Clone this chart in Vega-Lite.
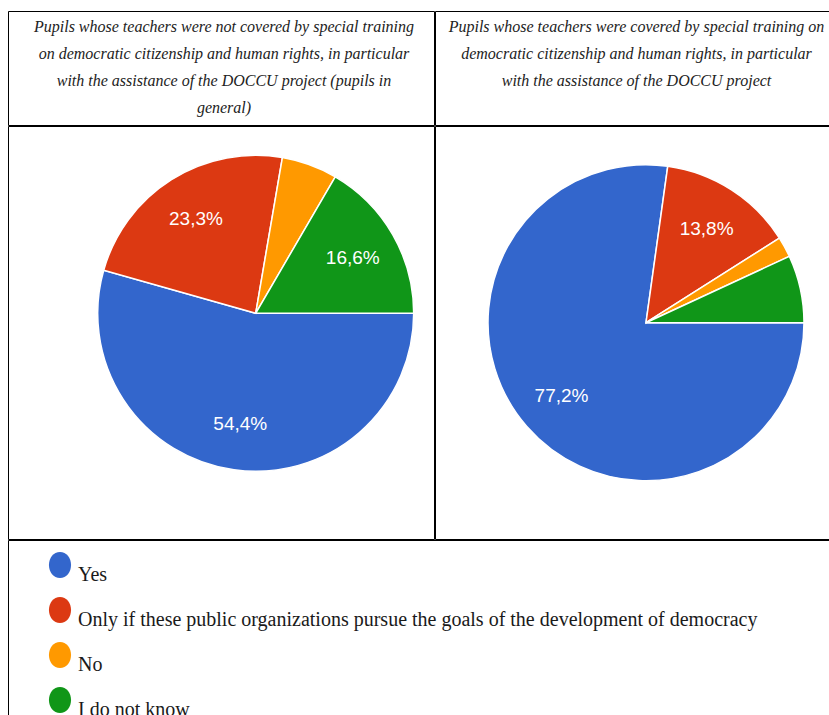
{
  "$schema": "https://vega.github.io/schema/vega-lite/v6.json",
  "padding": {"left": 7, "top": 10, "right": 0, "bottom": 0},
  "background": "white",
  "config": {
    "view": {"stroke": "#000", "strokeWidth": 1},
    "style": {"cell": {"stroke": "#000", "strokeWidth": 1}},
    "locale": {"number": {"decimal": ",", "thousands": ".", "grouping": [3], "currency": ["", " €"]}},
    "concat": {"spacing": -2}
  },
  "datasets": {
    "pies": [
      {"group": "not covered", "answer": "Yes", "rank": 1, "share": 0.544},
      {"group": "not covered", "answer": "Only if these public organizations pursue the goals of the development of democracy", "rank": 2, "share": 0.233},
      {"group": "not covered", "answer": "No", "rank": 3, "share": 0.057},
      {"group": "not covered", "answer": "I do not know", "rank": 4, "share": 0.166},
      {"group": "covered", "answer": "Yes", "rank": 1, "share": 0.772},
      {"group": "covered", "answer": "Only if these public organizations pursue the goals of the development of democracy", "rank": 2, "share": 0.138},
      {"group": "covered", "answer": "No", "rank": 3, "share": 0.021},
      {"group": "covered", "answer": "I do not know", "rank": 4, "share": 0.069}
    ]
  },
  "spacing": -2,
  "resolve": {"scale": {"color": "independent"}, "legend": {"color": "independent"}},
  "vconcat": [
    {
      "spacing": -2,
      "hconcat": [
        {
          "width": 426, "height": 114,
          "view": {"stroke": "#000", "strokeWidth": 1},
          "data": {"values": [{}]},
          "mark": {
            "type": "text",
            "text": ["Pupils whose teachers were not covered by special training", "on democratic citizenship and human rights, in particular", "with the assistance of the DOCCU project (pupils in", "general)"],
            "font": "Liberation Serif", "fontStyle": "italic", "fontSize": 16, "lineHeight": 27,
            "align": "center", "baseline": "middle", "color": "#222", "dx": 3, "dy": -41
          }
        },
        {
          "width": 395, "height": 114,
          "view": {"stroke": "#000", "strokeWidth": 1},
          "data": {"values": [{}]},
          "mark": {
            "type": "text",
            "text": ["Pupils whose teachers were covered by special training on", "democratic citizenship and human rights, in particular", "with the assistance of the DOCCU project"],
            "font": "Liberation Serif", "fontStyle": "italic", "fontSize": 16, "lineHeight": 27,
            "align": "center", "baseline": "middle", "color": "#222", "dx": 4, "dy": -41
          }
        }
      ]
    },
    {
      "spacing": -2,
      "hconcat": [
        {
          "width": 426, "height": 413,
          "view": {"stroke": "#000", "strokeWidth": 1},
          "data": {"name": "pies"},
          "transform": [{"filter": "datum.group === 'not covered'"}],
          "encoding": {
            "theta": {"field": "share", "type": "quantitative", "stack": true, "scale": {"range": [1.5707963, 7.8539816]}},
            "order": {"field": "rank", "type": "quantitative"}
          },
          "layer": [
            {
              "mark": {"type": "arc", "radius": 158, "stroke": "#fff", "strokeWidth": 1.5, "xOffset": 34.7, "yOffset": -19.2},
              "encoding": {
                "color": {"field": "answer", "type": "nominal", "legend": null,
                  "scale": {"domain": ["Yes", "Only if these public organizations pursue the goals of the development of democracy", "No", "I do not know"], "range": ["#3366CC", "#DC3912", "#FF9900", "#109618"]}}
              }
            },
            {
              "mark": {"type": "text", "radius": 112, "xOffset": 34.7, "yOffset": -19.2, "font": "Liberation Sans", "fontSize": 19, "fill": "#fff"},
              "encoding": {
                "detail": {"field": "answer", "type": "nominal"},
                "text": {"condition": {"test": "datum.share < 0.1", "value": ""}, "field": "share", "type": "quantitative", "format": ".1%"}
              }
            }
          ]
        },
        {
          "width": 395, "height": 413,
          "view": {"stroke": "#000", "strokeWidth": 1},
          "data": {"name": "pies"},
          "transform": [{"filter": "datum.group === 'covered'"}],
          "encoding": {
            "theta": {"field": "share", "type": "quantitative", "stack": true, "scale": {"range": [1.5707963, 7.8539816]}},
            "order": {"field": "rank", "type": "quantitative"}
          },
          "layer": [
            {
              "mark": {"type": "arc", "radius": 158, "stroke": "#fff", "strokeWidth": 1.5, "xOffset": 13.5, "yOffset": -9.8},
              "encoding": {
                "color": {"field": "answer", "type": "nominal", "legend": null,
                  "scale": {"domain": ["Yes", "Only if these public organizations pursue the goals of the development of democracy", "No", "I do not know"], "range": ["#3366CC", "#DC3912", "#FF9900", "#109618"]}}
              }
            },
            {
              "mark": {"type": "text", "radius": 112, "xOffset": 13.5, "yOffset": -9.8, "font": "Liberation Sans", "fontSize": 19, "fill": "#fff"},
              "encoding": {
                "detail": {"field": "answer", "type": "nominal"},
                "text": {"condition": {"test": "datum.share < 0.1", "value": ""}, "field": "share", "type": "quantitative", "format": ".1%"}
              }
            }
          ]
        }
      ]
    },
    {
      "width": 821, "height": 177,
      "view": {"stroke": "#000", "strokeWidth": 1},
      "data": {"name": "pies"},
      "transform": [{"filter": "datum.group === 'not covered'"}],
      "mark": {"type": "point", "opacity": 0, "filled": true},
      "encoding": {
        "color": {
          "field": "answer", "type": "nominal",
          "scale": {"domain": ["Yes", "Only if these public organizations pursue the goals of the development of democracy", "No", "I do not know"], "range": ["#3366CC", "#DC3912", "#FF9900", "#109618"]},
          "legend": {
            "orient": "none", "legendX": 39, "legendY": 12, "title": null,
            "symbolType": "M 0 -1 C 0.5 -1 0.85 -0.55 0.85 0 C 0.85 0.55 0.5 1 0 1 C -0.5 1 -0.85 0.55 -0.85 0 C -0.85 -0.55 -0.5 -1 0 -1 Z",
            "symbolSize": 676, "symbolOpacity": 1, "symbolStrokeWidth": 0,
            "labelFont": "Liberation Serif", "labelFontSize": 20, "labelColor": "#1a1a1a",
            "labelBaseline": "top", "labelOffset": 5, "labelLimit": 1000, "rowPadding": 12
          }
        }
      }
    }
  ]
}
